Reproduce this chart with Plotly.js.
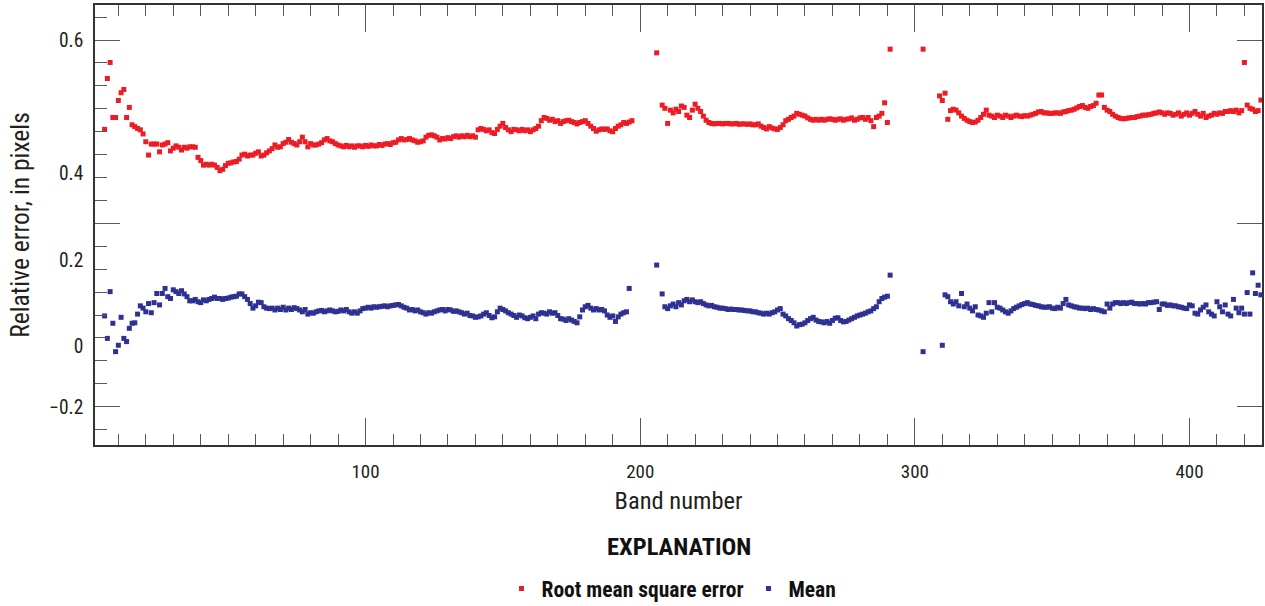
<!DOCTYPE html>
<html>
<head>
<meta charset="utf-8">
<script src="https://cdn.plot.ly/plotly-3.0.1.min.js"></script>
<style>
  html, body { margin: 0; padding: 0; background: #ffffff; }
  #chart { width: 1265px; height: 606px; }
</style>
</head>
<body>
<div id="chart"></div>
<script>
// Relative error per spectral band (index 0 = band 1); null = band not reported.
const rmse = [
  null, null, null, null, 0.405, 0.516, 0.551, 0.431, 0.431, 0.468,
  0.485, 0.492, 0.431, 0.453, 0.415, 0.411, 0.407, 0.404, 0.395, 0.378,
  0.349, 0.373, 0.373, 0.373, 0.356, 0.371, 0.373, 0.376, 0.358, 0.364,
  0.369, 0.366, 0.360, 0.366, 0.364, 0.367, 0.367, 0.366, 0.344, 0.337,
  0.327, 0.329, 0.327, 0.329, 0.327, 0.322, 0.315, 0.318, 0.326, 0.331,
  0.332, 0.334, 0.335, 0.340, 0.349, 0.351, 0.347, 0.349, 0.349, 0.353,
  0.356, 0.347, 0.349, 0.354, 0.358, 0.363, 0.371, 0.366, 0.367, 0.374,
  0.377, 0.383, 0.377, 0.374, 0.371, 0.378, 0.388, 0.378, 0.367, 0.374,
  0.371, 0.371, 0.373, 0.376, 0.382, 0.385, 0.380, 0.378, 0.374, 0.371,
  0.369, 0.367, 0.370, 0.367, 0.369, 0.366, 0.369, 0.369, 0.367, 0.370,
  0.368, 0.371, 0.369, 0.369, 0.372, 0.370, 0.373, 0.374, 0.372, 0.376,
  0.377, 0.382, 0.385, 0.382, 0.383, 0.385, 0.382, 0.380, 0.377, 0.378,
  0.380, 0.388, 0.392, 0.393, 0.391, 0.388, 0.382, 0.385, 0.384, 0.387,
  0.385, 0.389, 0.391, 0.388, 0.391, 0.389, 0.392, 0.389, 0.391, 0.388,
  0.404, 0.407, 0.405, 0.402, 0.404, 0.398, 0.396, 0.405, 0.412, 0.418,
  0.409, 0.404, 0.400, 0.405, 0.404, 0.402, 0.405, 0.402, 0.404, 0.400,
  0.404, 0.407, 0.412, 0.424, 0.431, 0.429, 0.425, 0.427, 0.422, 0.424,
  0.418, 0.422, 0.424, 0.425, 0.422, 0.420, 0.417, 0.420, 0.422, 0.424,
  0.418, 0.412, 0.407, 0.401, 0.404, 0.406, 0.405, 0.406, 0.402, 0.400,
  0.407, 0.412, 0.415, 0.420, 0.418, 0.421, 0.424, null, null, null,
  null, null, null, null, null, 0.572, null, 0.458, 0.451, 0.418,
  0.447, 0.441, 0.449, 0.444, 0.456, 0.453, 0.436, 0.431, 0.447, 0.460,
  0.451, 0.444, 0.434, 0.425, 0.420, 0.418, 0.417, 0.418, 0.418, 0.417,
  0.418, 0.418, 0.417, 0.417, 0.418, 0.416, 0.417, 0.417, 0.416, 0.417,
  0.415, 0.415, 0.417, 0.412, 0.409, 0.406, 0.411, 0.408, 0.406, 0.405,
  0.409, 0.415, 0.424, 0.427, 0.431, 0.434, 0.440, 0.438, 0.436, 0.434,
  0.430, 0.427, 0.425, 0.427, 0.425, 0.427, 0.425, 0.427, 0.428, 0.427,
  0.425, 0.427, 0.428, 0.425, 0.427, 0.428, 0.430, 0.425, 0.427, 0.430,
  0.431, 0.427, 0.431, 0.424, 0.411, 0.431, 0.434, 0.440, 0.463, 0.420,
  0.580, null, null, null, null, null, null, null, null, null,
  null, null, 0.580, null, null, null, null, null, 0.478, 0.468,
  0.484, 0.427, 0.446, 0.449, 0.447, 0.441, 0.434, 0.429, 0.425, 0.422,
  0.420, 0.421, 0.425, 0.431, 0.438, 0.447, 0.436, 0.434, 0.431, 0.436,
  0.434, 0.431, 0.436, 0.434, 0.431, 0.434, 0.436, 0.434, 0.433, 0.435,
  0.434, 0.436, 0.438, 0.440, 0.443, 0.444, 0.441, 0.441, 0.440, 0.440,
  0.441, 0.441, 0.440, 0.443, 0.444, 0.446, 0.447, 0.449, 0.452, 0.455,
  0.457, 0.453, 0.451, 0.455, 0.457, 0.462, 0.480, 0.480, 0.453, 0.447,
  0.444, 0.438, 0.434, 0.431, 0.429, 0.428, 0.429, 0.430, 0.431, 0.431,
  0.433, 0.434, 0.436, 0.436, 0.437, 0.438, 0.440, 0.441, 0.443, 0.441,
  0.438, 0.441, 0.440, 0.436, 0.438, 0.441, 0.434, 0.438, 0.441, 0.436,
  0.440, 0.444, 0.438, 0.434, 0.440, 0.431, 0.434, 0.436, 0.440, 0.438,
  0.441, 0.440, 0.444, 0.444, 0.446, 0.444, 0.447, 0.441, 0.446, 0.551,
  0.458, 0.451, 0.449, 0.444, 0.446, 0.469
];

const mean = [
  null, null, null, null, -0.002, -0.051, 0.051, -0.018, -0.080, -0.066,
  -0.005, -0.051, -0.058, -0.029, -0.018, -0.017, 0.002, 0.020, 0.015, 0.007,
  0.025, 0.005, 0.027, 0.047, 0.022, 0.047, 0.058, 0.040, 0.036, 0.055,
  0.051, 0.047, 0.053, 0.046, 0.040, 0.031, 0.031, 0.034, 0.029, 0.027,
  0.033, 0.031, 0.034, 0.036, 0.039, 0.036, 0.036, 0.034, 0.036, 0.037,
  0.039, 0.040, 0.041, 0.046, 0.046, 0.040, 0.034, 0.025, 0.015, 0.020,
  0.028, 0.027, 0.018, 0.015, 0.014, 0.015, 0.011, 0.015, 0.012, 0.017,
  0.011, 0.015, 0.012, 0.016, 0.014, 0.011, 0.007, 0.012, 0.002, 0.005,
  0.004, 0.007, 0.009, 0.010, 0.007, 0.009, 0.011, 0.009, 0.007, 0.008,
  0.011, 0.009, 0.012, 0.007, 0.004, 0.007, 0.004, 0.009, 0.014, 0.015,
  0.017, 0.015, 0.018, 0.017, 0.018, 0.019, 0.020, 0.018, 0.020, 0.021,
  0.022, 0.023, 0.020, 0.017, 0.015, 0.011, 0.012, 0.009, 0.011, 0.007,
  0.005, 0.002, 0.005, 0.004, 0.007, 0.009, 0.011, 0.012, 0.009, 0.012,
  0.011, 0.008, 0.009, 0.007, 0.005, 0.002, 0.004, -0.001, -0.002, -0.005,
  -0.004, -0.002, 0.002, 0.005, -0.001, -0.006, -0.004, 0.007, 0.015, 0.012,
  0.009, 0.005, 0.002, -0.001, -0.005, 0.000, -0.002, -0.006, -0.008, -0.005,
  -0.002, -0.008, 0.002, 0.005, 0.004, 0.002, 0.007, 0.004, 0.005, -0.001,
  -0.008, -0.009, -0.012, -0.008, -0.011, -0.014, -0.017, -0.004, 0.011, 0.018,
  0.021, 0.015, 0.011, 0.014, 0.011, 0.012, 0.009, 0.000, -0.005, -0.002,
  -0.014, -0.004, 0.002, 0.005, 0.007, 0.058, null, null, null, null,
  null, null, null, null, null, 0.109, null, 0.046, 0.018, 0.014,
  0.020, 0.024, 0.018, 0.027, 0.022, 0.031, 0.034, 0.029, 0.033, 0.029,
  0.027, 0.029, 0.025, 0.022, 0.020, 0.021, 0.018, 0.017, 0.015, 0.015,
  0.014, 0.012, 0.013, 0.012, 0.012, 0.011, 0.011, 0.010, 0.009, 0.009,
  0.007, 0.007, 0.005, 0.004, 0.002, 0.004, 0.002, 0.005, 0.007, 0.011,
  0.014, 0.002, -0.002, -0.008, -0.012, -0.017, -0.024, -0.021, -0.020, -0.017,
  -0.012, -0.008, -0.005, -0.011, -0.014, -0.015, -0.017, -0.014, -0.018, -0.012,
  -0.007, -0.006, -0.012, -0.015, -0.014, -0.011, -0.008, -0.005, -0.002, 0.000,
  0.002, 0.004, 0.007, 0.009, 0.014, 0.018, 0.029, 0.036, 0.039, 0.041,
  0.087, null, null, null, null, null, null, null, null, null,
  null, null, -0.080, null, null, null, null, null, null, -0.066,
  0.044, 0.040, 0.029, 0.024, 0.029, 0.020, 0.047, 0.018, 0.024, 0.015,
  0.009, 0.018, 0.000, -0.002, -0.005, 0.004, 0.027, 0.007, 0.027, 0.017,
  0.015, 0.011, 0.007, 0.004, 0.009, 0.014, 0.017, 0.020, 0.023, 0.025,
  0.027, 0.024, 0.023, 0.021, 0.020, 0.018, 0.017, 0.017, 0.018, 0.015,
  0.014, 0.017, 0.015, 0.025, 0.034, 0.022, 0.020, 0.018, 0.017, 0.015,
  0.015, 0.014, 0.015, 0.012, 0.014, 0.012, 0.011, 0.009, 0.007, 0.024,
  0.015, 0.024, 0.027, 0.027, 0.025, 0.027, 0.025, 0.027, 0.028, 0.025,
  0.025, 0.024, 0.025, 0.024, 0.027, 0.027, 0.028, 0.029, 0.012, 0.024,
  0.024, 0.021, 0.022, 0.020, 0.020, 0.018, 0.017, 0.015, 0.014, 0.022,
  0.020, 0.004, 0.002, 0.011, 0.017, 0.022, 0.007, 0.002, -0.002, 0.029,
  0.018, 0.007, 0.022, 0.002, -0.002, 0.034, 0.015, 0.005, 0.015, 0.002,
  0.049, 0.002, 0.092, 0.047, 0.065, 0.044
];

// Band numbers 1..N (x categories)
const bands = rmse.map((v, i) => i + 1);

// Axis ticks and labels
const xTickVals = [100, 200, 300, 400];
const yLabelPos = [0.6, 0.309, 0.12, -0.069, -0.2];
const yLabelText = ['0.6', '0.4', '0.2', '0', '\u22120.2'];
const yLongTicks = [0.6, 0.2, -0.2];

const FONT = '"Liberation Sans Narrow", "Roboto Condensed", "DejaVu Sans Condensed", "Arial Narrow", sans-serif';
const RED = '#ed1c24';
const BLUE = '#2e3192';
const TICK = '#5a5a5a';
const INK = '#231f20';
const X_RANGE = [1.5, 426.4];
const Y_RANGE = [-0.2836, 0.6764];

const traces = [
  {
    type: 'scatter', mode: 'markers', name: 'Root mean square error',
    x: bands, y: rmse,
    marker: { symbol: 'square', size: 5, color: RED }
  },
  {
    type: 'scatter', mode: 'markers', name: 'Mean',
    x: bands, y: mean,
    marker: { symbol: 'square', size: 5, color: BLUE }
  },
  // carries the overlay axis that draws the long y ticks
  { type: 'scatter', mode: 'markers', x: [], y: [], yaxis: 'y2', showlegend: false, hoverinfo: 'skip' }
];

const layout = {
  width: 1265, height: 606,
  margin: { l: 95, r: 3, t: 5, b: 161 },
  paper_bgcolor: '#ffffff', plot_bgcolor: '#ffffff',
  font: { family: FONT, size: 18, color: INK },
  showlegend: true,
  legend: {
    orientation: 'h', x: 0.494, xanchor: 'center',
    yref: 'container', y: 0.029, yanchor: 'middle',
    font: { family: FONT, size: 21.5, weight: 'bold', color: '#111' },
    itemwidth: 30
  },
  annotations: [{
    text: 'EXPLANATION', xref: 'paper', yref: 'paper', x: 0.5, y: -0.2318,
    xanchor: 'center', yanchor: 'middle', showarrow: false,
    font: { family: FONT, size: 24.5, weight: 'bold', color: '#111' }
  }],
  xaxis: {
    range: X_RANGE, tickmode: 'array', tickvals: xTickVals,
    ticks: 'inside', ticklen: 27, tickwidth: 1, tickcolor: TICK,
    showline: true, linecolor: '#333', linewidth: 1.5, mirror: 'ticks',
    showgrid: false, zeroline: false,
    minor: { tickmode: 'linear', tick0: 0, dtick: 10, ticks: 'inside', ticklen: 11, tickwidth: 1, tickcolor: TICK, showgrid: false },
    ticklabelstandoff: 8,
    tickfont: { family: FONT, size: 19, color: INK },
    title: { text: 'Band number', standoff: 10, font: { family: FONT, size: 24.5, color: INK } }
  },
  yaxis: {
    range: Y_RANGE, tickmode: 'array', tickvals: yLabelPos, ticktext: yLabelText,
    ticks: '', showline: true, linecolor: '#333', linewidth: 1.5, mirror: true,
    showgrid: false, zeroline: false,
    minor: { tickmode: 'linear', tick0: 0, dtick: 0.05, ticks: 'inside', ticklen: 12, tickwidth: 1, tickcolor: TICK, showgrid: false },
    ticklabelstandoff: 6,
    tickfont: { family: FONT, size: 19.5, color: INK },
    title: { text: 'Relative error, in pixels', standoff: 12, font: { family: FONT, size: 25.5, color: INK } }
  },
  yaxis2: {
    overlaying: 'y', side: 'left', range: Y_RANGE,
    tickmode: 'array', tickvals: yLongTicks,
    ticks: 'inside', ticklen: 25, tickwidth: 1, tickcolor: TICK,
    showticklabels: false, showline: false, mirror: 'ticks',
    showgrid: false, zeroline: false
  }
};

Plotly.newPlot('chart', traces, layout, { displayModeBar: false, responsive: false });
</script>
</body>
</html>
